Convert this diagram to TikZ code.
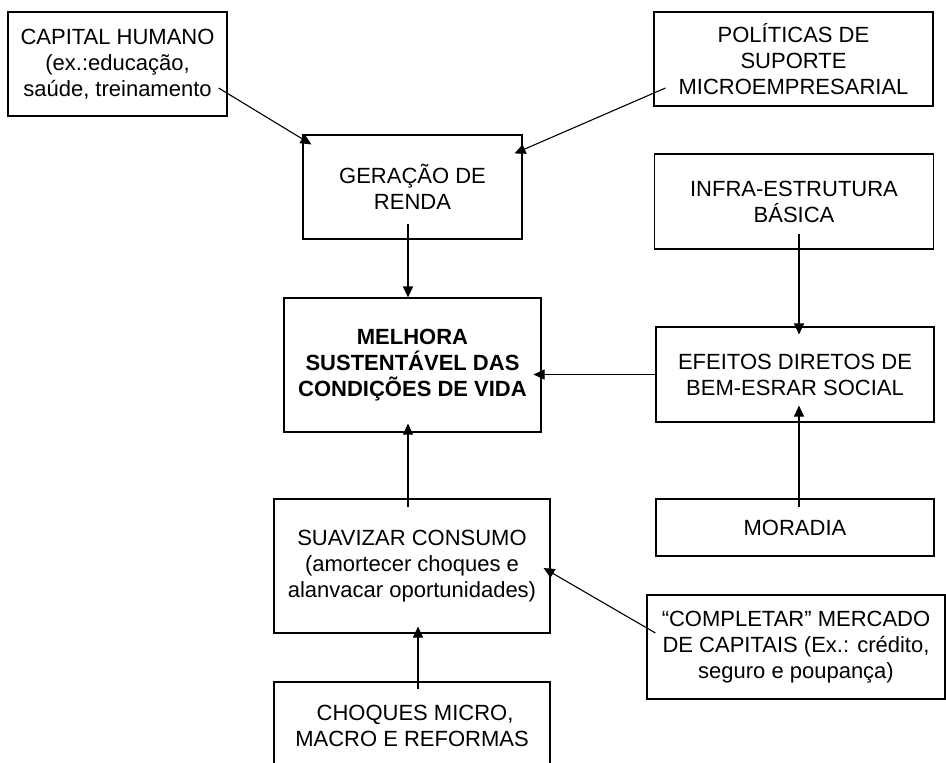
\documentclass[tikz,border=0pt]{standalone}
\usepackage{fontspec}
\setmainfont{Liberation Sans}
\usetikzlibrary{arrows.meta}

\begin{document}
\begin{tikzpicture}[
    x=1pt, y=-1pt,
    font=\fontsize{22}{26}\selectfont,
    box/.style={draw, line width=1.1pt, align=center, inner sep=0pt},
    arrow/.style={-{Triangle[length=11pt,width=10pt]}, line width=1.1pt}
]
\fill[white] (0,0) rectangle (946,763);
\useasboundingbox (0,0) rectangle (946,763);

% top row
\node[box, minimum width=219pt, minimum height=104pt] (capital) at (117.5,64) {CAPITAL HUMANO\\(ex.:educação,\\saúde, treinamento};
\node[box, minimum width=279pt, minimum height=94pt] (politicas) at (793.5,59) {POLÍTICAS DE\\SUPORTE\\MICROEMPRESARIAL};

% income and infrastructure
\node[box, minimum width=219pt, minimum height=104pt] (geracao) at (412.5,187) {GERAÇÃO DE\\RENDA};
\node[box, minimum width=279pt, minimum height=95pt] (infra) at (794,201.5) {INFRA-ESTRUTURA\\BÁSICA};

% centre row
\node[box, minimum width=257pt, minimum height=134pt, font=\fontsize{22}{26}\selectfont\bfseries] (melhora) at (412.5,365) {MELHORA\\SUSTENTÁVEL DAS\\CONDIÇÕES DE VIDA};
\node[box, minimum width=278pt, minimum height=95pt] (efeitos) at (795,374.5) {EFEITOS DIRETOS DE\\BEM-ESRAR SOCIAL};

% lower rows
\node[box, minimum width=278pt, minimum height=57pt] (moradia) at (795,527.5) {MORADIA};
\node[box, minimum width=276pt, minimum height=134pt] (suavizar) at (412,566) {SUAVIZAR CONSUMO\\(amortecer choques e\\alanvacar oportunidades)};
\node[box, minimum width=298pt, minimum height=104pt] (mercado) at (796,647) {“COMPLETAR” MERCADO\\DE CAPITAIS (Ex.: crédito,\\seguro e poupança)};
\node[box, minimum width=276pt, minimum height=88pt] (choques) at (412,726) {\ CHOQUES MICRO,\\MACRO E REFORMAS};

\draw[arrow] ([shift={(-9,24)}]capital.east) -- ([shift={(9,10)}]geracao.north west);
\draw[arrow] ([shift={(12,29)}]politicas.west) -- ([shift={(-8,19)}]geracao.north east);
\draw[arrow] ([shift={(-4.5,-16)}]geracao.south) -- ([xshift=-4.5]melhora.north);
\draw[arrow] ([shift={(5,-16)}]infra.south) -- ([shift={(4,8)}]efeitos.north);
\draw[arrow] (efeitos.west) -- ([xshift=-8]melhora.east |- efeitos.west);
\draw[arrow] ([shift={(4,9)}]moradia.north) -- ([shift={(4,-17)}]efeitos.south);
\draw[arrow] ([shift={(-4,9)}]suavizar.north) -- ([shift={(-4.5,-9)}]melhora.south);
\draw[arrow] ([shift={(9,-14)}]mercado.west) -- ([shift={(-7,2)}]suavizar.east);
\draw[arrow] ([shift={(6,8)}]choques.north) -- ([shift={(6,-7)}]suavizar.south);
\end{tikzpicture}
\end{document}
